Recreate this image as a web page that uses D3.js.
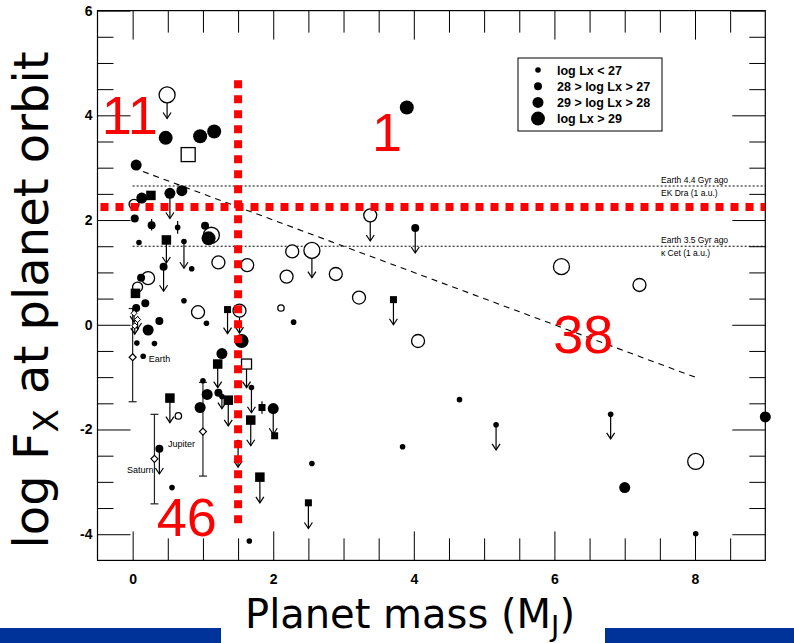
<!DOCTYPE html>
<html><head><meta charset="utf-8">
<script src="https://cdn.jsdelivr.net/npm/d3@7"></script>
<style>body{margin:0;background:#fff}svg{display:block}</style>
</head><body><svg id="c" width="794" height="643"></svg>
<script>
// ---------------- data ----------------
const xMajorTicks = [0, 2, 4, 6, 8];
const yMajorTicks = [-4, -2, 0, 2, 4, 6];
const legendLabels = ["log Lx < 27", "28 > log Lx > 27", "29 > log Lx > 28", "log Lx > 29"];

// [planet mass (MJ), log Fx, Lx class (0..3), upper-limit arrow end or null]
const filledCircles = [
  [0.47,3.57,3,null],[0.96,3.60,3,null],[1.16,3.69,3,null],[3.90,4.15,3,null],
  [0.05,3.05,2,null],[0.13,2.42,2,null],[0.53,2.51,2,2.03],[0.70,2.56,2,null],
  [0.03,2.03,1,null],[0.27,1.90,1,null],[0.64,1.86,0,null],[1.03,1.89,1,null],
  [1.08,1.65,3,null],[0.09,1.57,0,null],[0.73,1.59,0,1.08],[0.84,1.07,0,null],
  [0.44,1.11,1,0.64],[0.12,0.90,1,null],[0.18,0.41,1,null],[0.73,0.46,0,null],
  [0.05,0.32,1,null],[0.38,0.07,1,null],[0.22,-0.10,2,null],[1.05,0.03,0,null],
  [0.06,-0.35,0,null],[0.15,-0.60,0,null],[0.31,-0.36,0,null],[1.55,-0.31,3,null],
  [1.27,-0.55,2,null],[1.69,-1.20,0,-1.68],[1.00,-1.07,0,null],[1.06,-1.33,2,null],
  [0.96,-1.58,2,null],[1.22,-1.30,1,null],[1.27,-1.37,0,-1.60],[2.00,-1.60,2,-2.09],
  [0.38,-2.37,1,-2.85],[0.56,-3.11,0,null],[1.66,-4.13,0,null],[2.29,0.05,0,null],
  [4.02,1.85,1,1.37],[3.84,-2.33,0,null],[4.65,-1.43,0,null],[5.17,-1.91,0,-2.39],
  [2.55,-2.65,0,null],[6.80,-1.71,0,-2.18],[7.00,-3.11,2,null],[8.01,-3.99,0,null],
  [9.00,-1.76,2,null],[1.50,-2.25,0,-2.72]
];
const openCircles = [
  [0.49,4.39,3,3.94],[0.02,2.30,1,null],[1.12,1.71,3,null],[1.22,1.19,2,null],
  [1.63,1.14,2,null],[0.22,0.89,2,null],[0.07,0.72,1,null],[0.93,0.24,2,null],
  [1.52,0.27,2,-0.16],[2.27,1.40,2,null],[2.55,1.42,3,0.90],[2.19,0.92,2,null],
  [2.89,0.97,2,null],[3.22,0.52,2,null],[2.11,0.32,0,null],[3.38,2.09,2,1.60],
  [4.06,-0.31,2,null],[6.10,1.11,3,null],[7.21,0.76,2,null],[8.01,-2.61,3,null],
  [0.65,-1.74,0,null]
];
const filledSquares = [
  [0.26,2.47,1,null],[0.48,1.62,1,1.18],[0.04,0.60,1,null],[1.35,0.29,0,-0.17],
  [1.21,-0.75,1,-1.20],[0.53,-1.40,1,-1.87],[1.36,-1.44,1,-1.93],[1.68,-1.82,1,-2.31],
  [1.84,-1.58,0,null],[2.02,-2.12,0,null],[1.81,-2.91,1,-3.40],[2.50,-3.40,0,-3.89],
  [3.71,0.48,0,0.00]
];
const openSquares = [
  [0.79,3.25,1,null],[1.62,-0.75,0,-1.20]
];
// short measurement error bars [mass, low, high]
const shortErrors = [[0.27,1.80,2.02],[0.64,1.74,1.98],[1.84,-1.70,-1.46]];
// small open upper limits close to zero mass [mass, logFx, arrow end]
const smallLimits = [[0.02,0.22,0.05],[0.07,0.10,-0.08],[0.03,-0.02,-0.18]];
const solarSystem = [
  {name:"Earth",   mass:0.00, fx:-0.62, lo:-1.47, hi:0.31},
  {name:"Jupiter", mass:1.00, fx:-2.04, lo:-2.89, hi:-1.10},
  {name:"Saturn",  mass:0.31, fx:-2.56, lo:-3.42, hi:-1.71}
];
const refLines = [
  {fx:2.65, labels:["Earth 4.4 Gyr ago","EK Dra (1 a.u.)"]},
  {fx:1.50, labels:["Earth 3.5 Gyr ago","\u03ba Cet (1 a.u.)"]}
];
const trendLine = [[0,3.0],[8,-1.0]];
const massCut = 1.5, fxCut = 2.25;
const massCutRange = [4.67, -3.83];
const quadrantCounts = [
  {label:"11", mass:-0.04, fx:4.0},
  {label:"1",  mass:3.62, fx:3.69},
  {label:"38", mass:6.41, fx:-0.17},
  {label:"46", mass:0.77, fx:-3.67}
];

// ---------------- drawing ----------------
const svg = d3.select("#c");
const L = 97.5, R = 765.3, T = 10.6, B = 560.4;
const x = d3.scaleLinear().domain([-0.5, 9]).range([L, R]);
const y = d3.scaleLinear().domain([-4.5, 6]).range([B, T]);

const filledR = [2.8, 4, 5.5, 7];
const openR = [3.2, 5, 6.5, 8];
const sqSide = [7, 9.5];
const openSqSide = [10, 14];

// blue bars at bottom
svg.append("rect").attr("x",0).attr("y",628).attr("width",221).attr("height",15).attr("fill","#003399");
svg.append("rect").attr("x",605).attr("y",628).attr("width",189).attr("height",15).attr("fill","#003399");

// ticks
const minorX = d3.range(-0.5, 9.01, 0.5).filter(v => v > -0.5 && v < 9 && !xMajorTicks.includes(v));
const minorY = d3.range(-4.5, 6.01, 0.5).filter(v => v > -4.5 && v < 6 && !yMajorTicks.includes(v));
function styleAxis(g){ g.select(".domain").remove(); g.selectAll(".tick line").attr("stroke","#000").attr("stroke-width",1); }
const tickFont = "bold 14px 'Liberation Sans', Arial, Helvetica, sans-serif";

svg.append("g").attr("transform",`translate(0,${B})`)
  .call(d3.axisBottom(x).tickValues(xMajorTicks).tickSize(-29).tickPadding(14).tickFormat(d=>String(d)))
  .call(styleAxis).call(g=>g.selectAll("text").style("font",tickFont).attr("fill","#000"));
svg.append("g").attr("transform",`translate(0,${B})`)
  .call(d3.axisBottom(x).tickValues(minorX).tickSize(-22).tickFormat(""))
  .call(styleAxis);
svg.append("g").attr("transform",`translate(0,${T})`)
  .call(d3.axisTop(x).tickValues(xMajorTicks).tickSize(-29).tickFormat(""))
  .call(styleAxis);
svg.append("g").attr("transform",`translate(0,${T})`)
  .call(d3.axisTop(x).tickValues(minorX).tickSize(-22).tickFormat(""))
  .call(styleAxis);
svg.append("g").attr("transform",`translate(${L},0)`)
  .call(d3.axisLeft(y).tickValues(yMajorTicks).tickSize(-33).tickPadding(5).tickFormat(d=>String(d)))
  .call(styleAxis).call(g=>g.selectAll("text").style("font",tickFont).attr("fill","#000"));
svg.append("g").attr("transform",`translate(${L},0)`)
  .call(d3.axisLeft(y).tickValues(minorY).tickSize(-16).tickFormat(""))
  .call(styleAxis);
svg.append("g").attr("transform",`translate(${R},0)`)
  .call(d3.axisRight(y).tickValues(yMajorTicks).tickSize(-33).tickFormat(""))
  .call(styleAxis);
svg.append("g").attr("transform",`translate(${R},0)`)
  .call(d3.axisRight(y).tickValues(minorY).tickSize(-16).tickFormat(""))
  .call(styleAxis);

// frame
svg.append("rect").attr("x",L).attr("y",T).attr("width",R-L).attr("height",B-T)
  .attr("fill","none").attr("stroke","#000").attr("stroke-width",1.2);

// reference lines
const smallFont = "8.5px 'Liberation Sans', Arial, sans-serif";
refLines.forEach(r=>{
  svg.append("line").attr("x1",x(0)).attr("x2",R).attr("y1",y(r.fx)).attr("y2",y(r.fx))
    .attr("stroke","#000").attr("stroke-width",1).attr("stroke-dasharray","2,2");
  svg.append("text").attr("x",661).attr("y",y(r.fx)-3.5).style("font",smallFont).text(r.labels[0]);
  svg.append("text").attr("x",661).attr("y",y(r.fx)+9.5).style("font",smallFont).text(r.labels[1]);
});
// trend line
svg.append("path").attr("d",d3.line().x(d=>x(d[0])).y(d=>y(d[1]))(trendLine))
  .attr("fill","none").attr("stroke","#000").attr("stroke-width",1.1).attr("stroke-dasharray","6,5");

const G = svg.append("g");
function arrow(m, f0, f1, color){
  const c = color || "#000";
  G.append("line").attr("x1",x(m)).attr("x2",x(m)).attr("y1",y(f0)).attr("y2",y(f1)).attr("stroke",c).attr("stroke-width",1.2);
  G.append("path").attr("d",`M${x(m)-4},${y(f1)-6}L${x(m)},${y(f1)}L${x(m)+4},${y(f1)-6}`)
    .attr("fill","none").attr("stroke",c).attr("stroke-width",1.2);
}
function errbar(m, lo, hi, cap, color){
  const c = color || "#000";
  G.append("line").attr("x1",x(m)).attr("x2",x(m)).attr("y1",y(lo)).attr("y2",y(hi)).attr("stroke",c).attr("stroke-width",1.2);
  if(cap){
    [lo,hi].forEach(v=>G.append("line").attr("x1",x(m)-cap).attr("x2",x(m)+cap).attr("y1",y(v)).attr("y2",y(v)).attr("stroke",c).attr("stroke-width",1.2));
  }
}

// error bars
solarSystem.forEach(s=>errbar(s.mass, s.lo, s.hi, 4, "#222"));
shortErrors.forEach(e=>errbar(e[0], e[1], e[2], 0));
// arrows
[filledCircles, openCircles, filledSquares, openSquares].forEach(arr=>arr.forEach(d=>{ if(d[3]!==null) arrow(d[0], d[1], d[3]); }));
smallLimits.forEach(d=>arrow(d[0], d[1], d[2]));

// markers
G.selectAll(".oc").data(openCircles).join("circle").attr("cx",d=>x(d[0])).attr("cy",d=>y(d[1]))
  .attr("r",d=>openR[d[2]]).attr("fill","#fff").attr("stroke","#000").attr("stroke-width",1.3);
G.selectAll(".os").data(openSquares).join("rect")
  .attr("x",d=>x(d[0])-openSqSide[d[2]]/2).attr("y",d=>y(d[1])-openSqSide[d[2]]/2)
  .attr("width",d=>openSqSide[d[2]]).attr("height",d=>openSqSide[d[2]])
  .attr("fill","#fff").attr("stroke","#000").attr("stroke-width",1.3);
G.selectAll(".fc").data(filledCircles).join("circle").attr("cx",d=>x(d[0])).attr("cy",d=>y(d[1]))
  .attr("r",d=>filledR[d[2]]).attr("fill","#000");
G.selectAll(".fs").data(filledSquares).join("rect")
  .attr("x",d=>x(d[0])-sqSide[d[2]]/2).attr("y",d=>y(d[1])-sqSide[d[2]]/2)
  .attr("width",d=>sqSide[d[2]]).attr("height",d=>sqSide[d[2]]).attr("fill","#000");
const diamond = (m,f,s)=>`M${x(m)},${y(f)-s}L${x(m)+s},${y(f)}L${x(m)},${y(f)+s}L${x(m)-s},${y(f)}Z`;
smallLimits.forEach(d=>G.append("path").attr("d",diamond(d[0],d[1],3)).attr("fill","#fff").attr("stroke","#000").attr("stroke-width",1));
solarSystem.forEach(s=>G.append("path").attr("d",diamond(s.mass,s.fx,3.5)).attr("fill","#fff").attr("stroke","#000").attr("stroke-width",1.2));

// solar system labels
const ssFont = "9px 'Liberation Sans', Arial, sans-serif";
svg.append("text").attr("x",x(0)+16).attr("y",y(-0.62)+4.5).style("font",ssFont).text("Earth");
svg.append("text").attr("x",x(1.0)-35).attr("y",y(-2.04)+15).style("font",ssFont).text("Jupiter");
svg.append("text").attr("x",x(0.31)-1).attr("y",y(-2.56)+14).attr("text-anchor","end").style("font",ssFont).text("Saturn");

// legend
const lg = svg.append("g");
lg.append("rect").attr("x",518).attr("y",58).attr("width",144).attr("height",73)
  .attr("fill","#fff").attr("stroke","#000").attr("stroke-width",1);
legendLabels.forEach((t,i)=>{
  const cy = 70 + i*16.2;
  lg.append("circle").attr("cx",538).attr("cy",cy).attr("r",filledR[i]).attr("fill","#000");
  lg.append("text").attr("x",557).attr("y",cy+4.5).style("font","bold 12.5px 'Liberation Sans', Arial, sans-serif").text(t);
});

// red cut lines
svg.append("line").attr("x1",x(-0.5)+3).attr("x2",R).attr("y1",y(fxCut)).attr("y2",y(fxCut))
  .attr("stroke","#ff0000").attr("stroke-width",8).attr("stroke-dasharray","8,7");
svg.append("line").attr("x1",x(massCut)).attr("x2",x(massCut)).attr("y1",y(massCutRange[0])).attr("y2",y(massCutRange[1]))
  .attr("stroke","#ff0000").attr("stroke-width",8).attr("stroke-dasharray","8,7");

// quadrant counts
quadrantCounts.forEach(q=>{
  svg.append("text").attr("x",x(q.mass)).attr("y",y(q.fx)+19).attr("text-anchor","middle")
    .style("font","54px 'Liberation Sans', Arial, sans-serif").attr("fill","#ff0000").text(q.label);
});

// axis titles
const titleFont = "'DejaVu Sans', 'Noto Sans', sans-serif";
const yt = svg.append("text").attr("transform","translate(48,300) rotate(-90)").attr("text-anchor","middle")
  .style("font-family",titleFont).style("font-size","48px").attr("fill","#000");
yt.append("tspan").text("log F");
yt.append("tspan").attr("dy",10).style("font-size","34px").text("X");
yt.append("tspan").attr("dy",-10).text(" at planet orbit");

const xt = svg.append("text").attr("x",410).attr("y",628).attr("text-anchor","middle")
  .style("font-family",titleFont).style("font-size","40px").attr("fill","#000");
xt.append("tspan").text("Planet mass (M");
xt.append("tspan").attr("dy",8).style("font-size","28px").text("J");
xt.append("tspan").attr("dy",-8).text(")");
</script>
</body></html>
